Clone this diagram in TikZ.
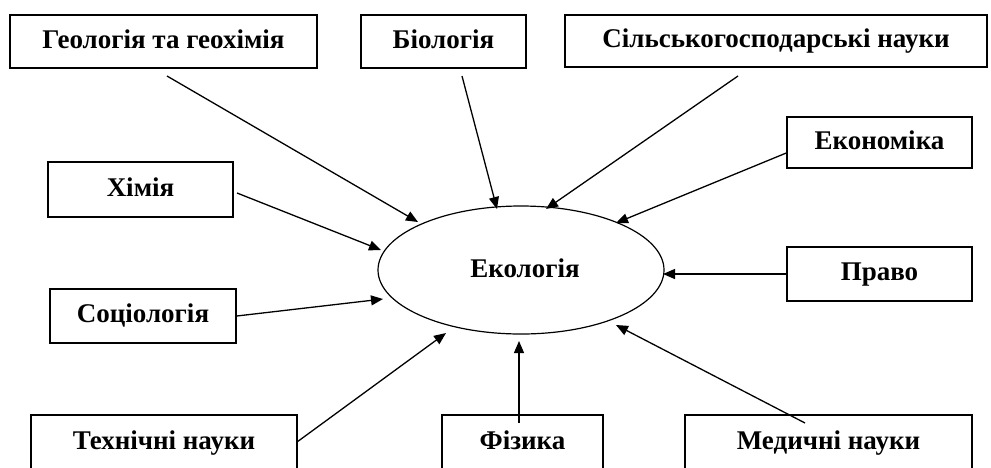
\documentclass[tikz,border=0pt]{standalone}
\usepackage{fontspec}
\setmainfont{Liberation Serif}
\usetikzlibrary{arrows.meta,shapes.geometric}
\begin{document}
\begin{tikzpicture}[x=1pt,y=-1pt,
  lbl/.style={font=\fontsize{27}{30}\selectfont\bfseries,text height=18pt,text depth=5pt},
  box/.style={draw,line width=1.5pt,inner sep=0pt,lbl},
  conn/.style={line width=1.3pt,-{Triangle[length=12pt,width=10pt]}}]
\useasboundingbox (0,0) rectangle (991,467);
\clip (0,0) rectangle (991,467);
% boxes
\node[box,minimum width=307pt,minimum height=53pt] (geo) at (163.5,41.5) {Геологія та геохімія};
\node[box,minimum width=165pt,minimum height=53pt] (bio) at (443.5,41.5) {Біологія};
\node[box,minimum width=422pt,minimum height=52pt] (agr) at (776,41) {Сільськогосподарські науки};
\node[box,minimum width=185pt,minimum height=51pt] (ekon) at (879.5,142.5) {Економіка};
\node[box,minimum width=185pt,minimum height=55pt] (him) at (140.5,189.5) {Хімія};
\node[box,minimum width=186pt,minimum height=54pt] (soc) at (143,316) {Соціологія};
\node[box,minimum width=185pt,minimum height=54pt] (pravo) at (879.5,274) {Право};
\node[box,minimum width=266pt,minimum height=56pt] (tech) at (164,443) {Технічні науки};
\node[box,minimum width=161pt,minimum height=56pt] (fiz) at (522.5,443) {Фізика};
\node[box,minimum width=287pt,minimum height=56pt] (med) at (828.5,443) {Медичні науки};
% centre
\node[draw,ellipse,line width=1.2pt,minimum width=286pt,minimum height=128pt,inner sep=0pt,lbl] (ecol) at (521,270) {};
\node[lbl,inner sep=0pt] (ecoltext) at (525,271) {Екологія};
% connector end points
\coordinate (geoS) at (167,76);   \coordinate (geoE) at (418,222);
\coordinate (bioS) at (462,76);   \coordinate (bioE) at (497,209);
\coordinate (agrS) at (738,76);   \coordinate (agrE) at (546,209);
\coordinate (ekonE) at (616,223);
\coordinate (himS) at (237,193);  \coordinate (himE) at (381,250);
\coordinate (socE) at (383,299);
\coordinate (techS) at (297,442); \coordinate (techE) at (446,333);
\coordinate (fizS) at (519,423);  \coordinate (fizE) at (519,341);
\coordinate (medS) at (805,423);  \coordinate (medE) at (616,325);
\coordinate (pravoE) at (663,274);
% connectors
\draw[conn] (geoS) -- (geoE);
\draw[conn] (bioS) -- (bioE);
\draw[conn] (agrS) -- (agrE);
\draw[conn] (ekon.west |- 0,153) -- (ekonE);
\draw[conn] (himS) -- (himE);
\draw[conn] (soc.east) -- (socE);
\draw[conn] (techS) -- (techE);
\draw[conn] (fizS) -- (fizE);
\draw[conn] (medS) -- (medE);
\draw[conn] (pravo.west) -- (pravoE);
\end{tikzpicture}
\end{document}
